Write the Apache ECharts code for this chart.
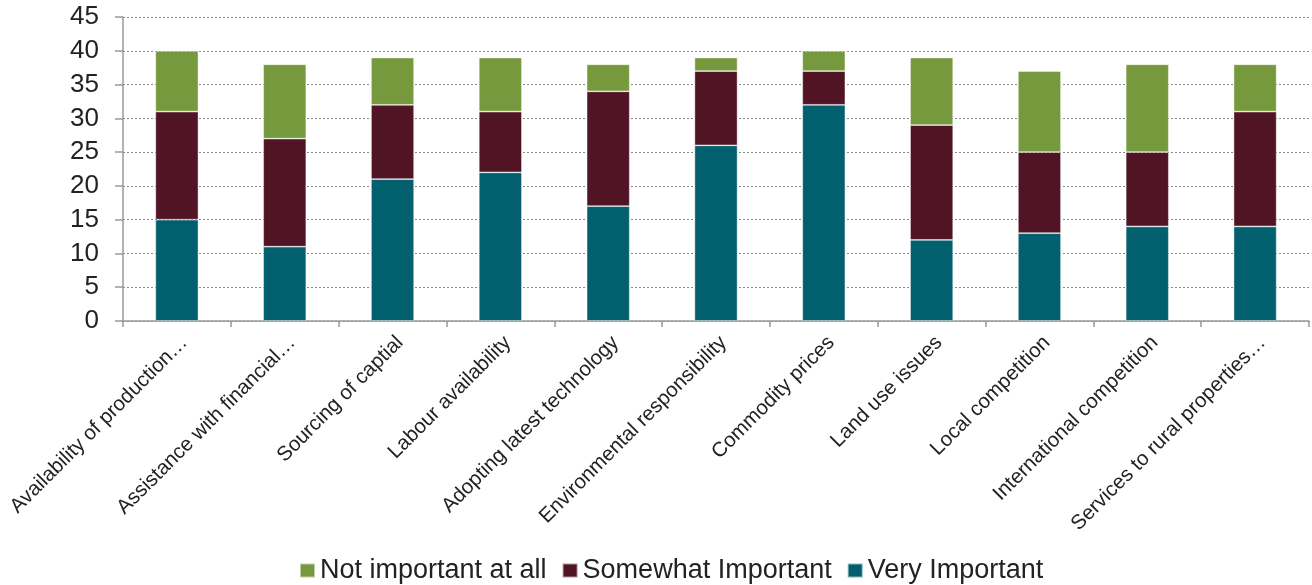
<!DOCTYPE html>
<html>
<head>
<meta charset="utf-8">
<script src="https://cdn.jsdelivr.net/npm/echarts@6/dist/echarts.min.js"></script>
<style>
  html, body { margin: 0; padding: 0; background: #fff; }
  #chart { width: 1312px; height: 585px; }
</style>
</head>
<body>
<div id="chart"></div>
<script>
// Survey: importance of issues, stacked counts of responses
const categories = [
  'Availability of production…',
  'Assistance with financial…',
  'Sourcing of captial',
  'Labour availability',
  'Adopting latest technology',
  'Environmental responsibility',
  'Commodity prices',
  'Land use issues',
  'Local competition',
  'International competition',
  'Services to rural properties…'
];
const veryImportant     = [15, 11, 21, 22, 17, 26, 32, 12, 13, 14, 14];
const somewhatImportant = [16, 16, 11,  9, 17, 11,  5, 17, 12, 11, 17];
const notImportant      = [ 9, 11,  7,  8,  4,  2,  3, 10, 12, 13,  7];
const yTicks = [0, 5, 10, 15, 20, 25, 30, 35, 40, 45];

const font = '"Liberation Sans", Arial, sans-serif';
const chart = echarts.init(document.getElementById('chart'));

function barSeries(name, data, color) {
  return {
    name: name,
    type: 'bar',
    stack: 'total',
    data: data,
    barWidth: '40%',
    itemStyle: { color: color, borderColor: 'rgba(255,255,255,0.55)', borderWidth: 0.8 },
    emphasis: { disabled: true }
  };
}

chart.setOption({
  animation: false,
  textStyle: { fontFamily: font },
  grid: {
    left: 123, right: 3, top: 17, bottom: 264,
    containLabel: false,
    outerBoundsMode: 'none'
  },
  legend: {
    top: 552,
    left: 294,
    itemWidth: 15,
    itemHeight: 14,
    itemGap: 15,
    icon: 'rect',
    textStyle: { fontSize: 27, color: '#222', fontFamily: font },
    data: ['Not important at all', 'Somewhat Important', 'Very Important']
  },
  xAxis: {
    type: 'category',
    data: categories,
    axisLine: { lineStyle: { color: '#999', width: 1.5 } },
    axisTick: { show: true, length: 6, lineStyle: { color: '#999', width: 1.5 } },
    axisLabel: {
      rotate: 45,
      interval: 0,
      fontSize: 20.5,
      color: '#222',
      margin: 11,
      verticalAlign: 'top',
      fontFamily: font
    }
  },
  yAxis: {
    type: 'value',
    min: 0,
    max: 45,
    interval: 5,
    axisLine: { show: true, lineStyle: { color: '#999', width: 1.5 } },
    axisTick: { show: true, length: 8, lineStyle: { color: '#999', width: 1.5 } },
    axisLabel: {
      fontSize: 26,
      color: '#222',
      margin: 24,
      fontFamily: font,
      formatter: v => yTicks.includes(v) ? String(v) : ''
    },
    splitLine: { show: true, lineStyle: { color: '#888', type: [2, 2], width: 1 } }
  },
  series: [
    barSeries('Very Important', veryImportant, '#025f6e'),
    barSeries('Somewhat Important', somewhatImportant, '#501424'),
    barSeries('Not important at all', notImportant, '#77993d')
  ]
});
</script>
</body>
</html>
